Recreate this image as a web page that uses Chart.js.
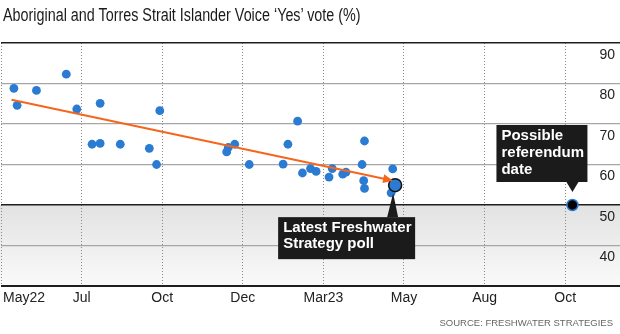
<!DOCTYPE html>
<html>
<head>
<meta charset="utf-8">
<script src="https://cdn.jsdelivr.net/npm/chart.js@4/dist/chart.umd.min.js"></script>
<style>
  body { margin: 0; background: #fff; }
  #wrap { position: relative; width: 620px; height: 334px; overflow: hidden; }
  #title { position: absolute; left: 3px; top: 5px; font: 17.5px "Liberation Sans Narrow", sans-serif; color: #1a1a1a; white-space: nowrap; transform: scaleX(0.82); transform-origin: left top; }
  #source { position: absolute; right: 7px; top: 317px; font: 9.5px "Liberation Sans Narrow", sans-serif; color: #666; white-space: nowrap; }
  canvas { position: absolute; left: 0; top: 0; }
</style>
</head>
<body>
<div id="wrap">
  <canvas id="voiceChart" width="620" height="334"></canvas>
  <div id="title">Aboriginal and Torres Strait Islander Voice ‘Yes’ vote (%)</div>
  <div id="source">SOURCE: FRESHWATER STRATEGIES</div>
</div>
<script>
// DATA (x = position in tick steps from May22)
const xLabels = ["May22", "Jul", "Oct", "Dec", "Mar23", "May", "Aug", "Oct"];
const yTicks = [40, 50, 60, 70, 80, 90];

const pollX = [0.16, 0.20, 0.44, 0.81, 0.94, 1.13, 1.23, 1.23, 1.48, 1.84, 1.93, 1.97,
  2.80, 2.82, 2.90, 3.08, 3.50, 3.56, 3.68, 3.74, 3.84, 3.91, 4.07, 4.11, 4.24, 4.28,
  4.48, 4.50, 4.51, 4.51, 4.84, 4.86];
const pollY = [78.8, 74.6, 78.3, 82.3, 73.7, 65.0, 75.1, 65.2, 65.0, 64.0, 60.0, 73.3,
  63.1, 64.2, 65.0, 60.0, 60.1, 65.0, 70.7, 57.9, 59.0, 58.3, 56.9, 59.0, 57.6, 58.1,
  60.0, 56.0, 54.1, 65.8, 53.0, 58.9];

const latestX = [4.89];
const latestY = [54.9];
const referendumX = [7.09];
const referendumY = [50];
const trendX = [0.13, 4.84];
const trendY = [76.0, 56.1];

const BLUE = "#2b7bd3";
const ORANGE = "#f5661c";
const LABEL_FONT = "14px 'Liberation Sans Narrow', sans-serif";
const NOTE_FONT = "bold 15px 'Liberation Sans Narrow', sans-serif";

function pts(xs, ys) {
  return xs.map((x, i) => ({ x: x, y: ys[i] }));
}

// draws a black note box with a pointer
function noteBox(ctx, left, top, w, h, tip, base, lines, lineH) {
  ctx.save();
  ctx.fillStyle = "#1b1b1b";
  ctx.fillRect(left, top, w, h);
  ctx.beginPath();
  ctx.moveTo(base[0], base[1]);
  ctx.lineTo(base[2], base[3]);
  ctx.lineTo(tip[0], tip[1]);
  ctx.closePath();
  ctx.fill();
  ctx.fillStyle = "#fff";
  ctx.font = NOTE_FONT;
  ctx.textAlign = "left";
  ctx.textBaseline = "middle";
  lines.forEach((t, i) => ctx.fillText(t, left + 5, top + 11 + i * lineH));
  ctx.restore();
}

const decor = {
  id: "decor",
  beforeDraw(chart) {
    const ctx = chart.ctx;
    const y = chart.scales.y;
    const top = y.getPixelForValue(50), bot = y.getPixelForValue(30);
    const g = ctx.createLinearGradient(0, top, 0, bot);
    g.addColorStop(0, "#e2e2e2");
    g.addColorStop(1, "#fafafa");
    ctx.save();
    ctx.fillStyle = g;
    ctx.fillRect(0, top, chart.width, bot - top);
    ctx.restore();
  },
  afterDatasetsDraw(chart) {
    // arrow head at the end of the trend line
    const ctx = chart.ctx;
    const p = chart.getDatasetMeta(2).data;
    const a = p[0], b = p[1];
    const ang = Math.atan2(b.y - a.y, b.x - a.x);
    ctx.save();
    ctx.translate(b.x, b.y);
    ctx.rotate(ang);
    ctx.fillStyle = ORANGE;
    ctx.beginPath();
    ctx.moveTo(2, 0);
    ctx.lineTo(-8, -4.5);
    ctx.lineTo(-8, 4.5);
    ctx.closePath();
    ctx.fill();
    ctx.restore();
  },
  afterDraw(chart) {
    const ctx = chart.ctx;
    const xs = chart.scales.x, ys = chart.scales.y;
    ctx.save();
    ctx.font = LABEL_FONT;
    ctx.fillStyle = "#222";
    ctx.textBaseline = "middle";
    // y labels sit just under their gridline
    ctx.textAlign = "right";
    yTicks.forEach(v => ctx.fillText(String(v), 615, ys.getPixelForValue(v) + 12));
    // x labels
    xLabels.forEach((t, i) => {
      const px = xs.getPixelForValue(i);
      ctx.textAlign = i === 0 ? "left" : "center";
      ctx.fillText(t, i === 0 ? px + 2 : px, ys.bottom + 12);
    });
    ctx.restore();

    // callouts
    const l = chart.getDatasetMeta(0).data[0];
    noteBox(ctx, l.x - 117, l.y + 32, 137, 42,
      [l.x - 2, l.y + 8], [l.x - 8, l.y + 32, l.x + 3, l.y + 32],
      ["Latest Freshwater", "Strategy poll"], 16);
    const r = chart.getDatasetMeta(1).data[0];
    noteBox(ctx, r.x - 76, r.y - 80, 91, 57,
      [r.x, r.y - 13], [r.x - 6, r.y - 23, r.x + 6, r.y - 23],
      ["Possible", "referendum", "date"], 17);
  }
};

const ctx = document.getElementById("voiceChart").getContext("2d");

new Chart(ctx, {
  type: "scatter",
  data: {
    datasets: [
      {
        label: "Latest Freshwater Strategy poll",
        data: pts(latestX, latestY),
        backgroundColor: BLUE,
        borderColor: "#111",
        borderWidth: 1.5,
        pointRadius: 6.5
      },
      {
        label: "Possible referendum date",
        data: pts(referendumX, referendumY),
        backgroundColor: "#000",
        borderColor: BLUE,
        borderWidth: 1.5,
        pointRadius: 5.5
      },
      {
        type: "line",
        label: "Trend",
        data: pts(trendX, trendY),
        borderColor: ORANGE,
        borderWidth: 2,
        pointRadius: 0,
        fill: false
      },
      {
        label: "Polls",
        data: pts(pollX, pollY),
        backgroundColor: BLUE,
        borderColor: BLUE,
        borderWidth: 0,
        pointRadius: 4.4
      }
    ]
  },
  options: {
    responsive: false,
    devicePixelRatio: 1,
    animation: false,
    layout: { autoPadding: false, padding: { left: 1, right: 0, top: 43, bottom: 48 } },
    plugins: { legend: { display: false }, tooltip: { enabled: false } },
    scales: {
      x: {
        type: "linear",
        min: 0,
        max: 7.68,
        afterFit: s => { s.height = 0; },
        ticks: { display: false, stepSize: 1 },
        border: { display: false, dash: [1, 2] },
        grid: {
          drawTicks: false,
          color: c => Number.isInteger(c.tick.value) ? "#8a8a8a" : "rgba(0,0,0,0)",
          lineWidth: 1
        }
      },
      y: {
        min: 30,
        max: 90,
        afterFit: s => { s.width = 0; },
        ticks: { display: false, stepSize: 10 },
        border: { display: false },
        grid: {
          drawTicks: false,
          color: c => [30, 50, 90].includes(c.tick.value) ? "#1e1e1e" : "#a6a6a6",
          lineWidth: c => c.tick.value === 30 ? 2 : (c.tick.value === 50 || c.tick.value === 90 ? 1.5 : 1.2)
        }
      }
    }
  },
  plugins: [decor]
});
</script>
</body>
</html>
